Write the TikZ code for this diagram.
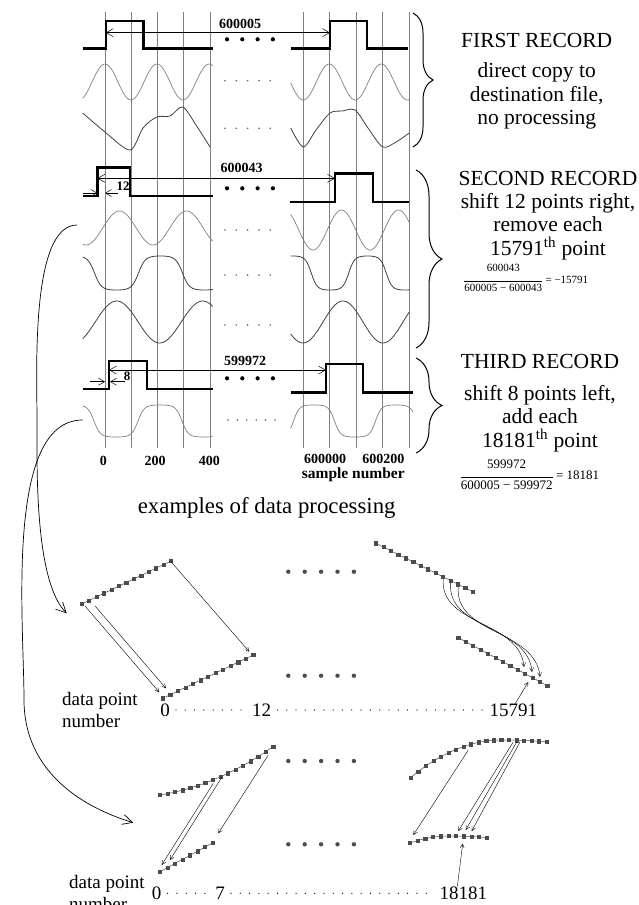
\documentclass[tikz,border=0pt]{standalone}
\usepackage{fontspec}
\setmainfont{Liberation Serif}
\usetikzlibrary{arrows.meta,positioning,decorations.pathreplacing,plotmarks}
\tikzset{
  gridln/.style={black!50, line width=0.7pt},
  pulse/.style={line width=2.4pt},
  sig/.style={black!50, line width=0.7pt},
  sigdark/.style={black!75, line width=0.8pt},
  spanarrow/.style={{Straight Barb[length=7pt,width=8pt]}-{Straight Barb[length=7pt,width=8pt]}, line width=0.5pt},
  shiftarrow/.style={-{Straight Barb[length=6pt,width=7pt]}, line width=0.5pt},
  numlbl/.style={font=\bfseries\fontsize{14}{14}\selectfont, inner sep=0pt},
  rectitle/.style={font=\fontsize{21.5}{24}\selectfont, inner sep=0pt},
  rectext/.style={font=\fontsize{21.5}{23.3}\selectfont, align=center, inner sep=0pt},
  fracnum/.style={font=\fontsize{11}{13}\selectfont, inner sep=0pt},
  ptlbl/.style={font=\fontsize{19}{22}\selectfont, inner sep=0pt},
  series/.style={black!70, line width=0.5pt, mark=square*, mark size=1.6pt,
                 mark options={fill=black!70, draw=black!70}},
  move/.style={-{Straight Barb[length=4pt,width=4pt]}, line width=0.4pt},
  link/.style={-{Straight Barb[length=10pt,width=10pt]}, line width=0.7pt},
  dotrow/.style={line width=1.3pt, line cap=round, dash pattern=on 0pt off 9.3pt},
  brc/.style={decorate, decoration={brace, amplitude=#1}, line width=1pt}
}
\begin{document}
\begin{tikzpicture}[x=1pt, y=-1pt]
\useasboundingbox (0,0) rectangle (639,905);

% sample grid
\foreach \i in {0,...,4} {
  \draw[gridln] (105+26.25*\i,12) -- ++(0,436);
  \draw[gridln] (303.3+26.5*\i,12) -- ++(0,436);
}

% first record
\draw[pulse] (82.7,48.3) -| (105.7,20.7) -| (143.3,48.3) -- (212.7,48.3);
\draw[pulse] (290.7,48.3) -| (330,20.7) -| (366.7,48.3) -- (408.3,48.3);
\coordinate (r1a) at (105.7,32.7);
\coordinate (r1b) at (330,32.7);
\draw[spanarrow] (r1a) -- (r1b);
\node[numlbl] (len1) at (240,24) {600005};
\draw[sig] plot[domain=82.7:212.7, samples=80, smooth] (\x,{82+18*cos((\x-131)/52*360)});
\draw[sig] plot[domain=290.7:409.3, samples=80, smooth] (\x,{82+18*cos((\x-303.3)/52*360)});
\draw[sigdark] plot[smooth] coordinates {(82.7,113) (105,132) (130,150) (143,128) (156.7,117) (170,116) (182.7,107) (196,125) (210,147)};
\draw[sigdark] plot[smooth] coordinates {(290.7,128) (303.3,147) (316,130) (330,113) (342,111) (355,110) (368,128) (382.7,147) (396,142) (409.3,133)};

% second record
\draw[pulse] (82.7,196) -| (97.3,167.3) -| (130,196) -- (212.7,196);
\draw[pulse] (290,201.7) -| (335,173.3) -| (372.7,201.7) -- (409.3,201.7);
\coordinate (r2a) at (97.3,178.3);
\coordinate (r2b) at (335,178.3);
\draw[spanarrow] (r2a) -- (r2b);
\node[numlbl] (len2) at (241.7,168) {600043};
\coordinate (s2a) at (82.7,193);
\coordinate (s2b) at (97.3,193);
\coordinate (s2c) at (118,193);
\coordinate (s2d) at (105,193);
\draw[shiftarrow] (s2a) -- (s2b);
\draw[shiftarrow] (s2c) -- (s2d);
\node[numlbl, font=\bfseries\fontsize{13}{13}\selectfont] (sh2) at (123,186) {12};
\draw[sig] plot[domain=82.7:212.7, samples=80, smooth] (\x,{228+17*cos((\x-153)/67*360)});
\draw[sig] plot[domain=290.7:409.3, samples=80, smooth] (\x,{230+20*cos((\x-313)/57*360)});
\draw[sigdark] plot[domain=82.7:212.7, samples=80, smooth] (\x,{273+17*tanh(2*cos((\x-116.5)/88*360))/tanh(2)});
\draw[sigdark] plot[domain=290.7:409.3, samples=80, smooth] (\x,{273+17*tanh(2*cos((\x-330)/75*360))/tanh(2)});
\draw[sigdark] plot[domain=82.7:212.7, samples=80, smooth] (\x,{322-21*cos((\x-116.7)/86*360)});
\draw[sigdark] plot[domain=290.7:409.3, samples=80, smooth] (\x,{322-21*cos((\x-343)/80*360)});

% third record
\draw[pulse] (82.7,389) -| (109,360.7) -| (146.7,389) -- (212.7,389);
\draw[pulse] (290.7,392.3) -| (326,364) -| (362.7,392.3) -- (412.7,392.3);
\coordinate (r3a) at (109,370);
\coordinate (r3b) at (326,370);
\draw[spanarrow] (r3a) -- (r3b);
\node[numlbl] (len3) at (245,361) {599972};
\coordinate (s3a) at (90,381.7);
\coordinate (s3b) at (105,381.7);
\coordinate (s3c) at (125,381.7);
\coordinate (s3d) at (110,381.7);
\draw[shiftarrow] (s3a) -- (s3b);
\draw[shiftarrow] (s3c) -- (s3d);
\node[numlbl, font=\bfseries\fontsize{13}{13}\selectfont] (sh3) at (127,376) {8};
\draw[sig] plot[domain=82.7:212.7, samples=90, smooth] (\x,{421+16*tanh(2.2*cos((\x-116)/88*360))/tanh(2.2)});
\draw[sig] plot[domain=290.7:412.7, samples=90, smooth] (\x,{421+16*tanh(2.2*cos((\x-355)/82*360))/tanh(2.2)});

% gaps in the records
\foreach \y in {80.7,128.3,230,275,325}
  \foreach \i in {0,...,4} \fill[black!60] (225+11.3*\i,\y) circle (0.9);
\foreach \i in {0,...,5} \fill[black!60] (228+9.4*\i,420) circle (0.9);
\foreach \y in {39.3,188.3,378.3}
  \foreach \i in {0,...,3} \fill (227+15.3*\i,\y) circle (2.1);

% axis labels
\node[numlbl] (x0) at (103.3,460.5) {0};
\node[numlbl] (x200) at (155,460.5) {200};
\node[numlbl] (x400) at (209.3,460.5) {400};
\node[numlbl] (x6a) at (325,459) {600000};
\node[numlbl] (x6b) at (383.3,459) {600200};
\node[numlbl, font=\bfseries\fontsize{15.5}{15.5}\selectfont] (xname) at (353.3,475) {sample number};

% record texts
\draw[brc=20pt] (413,13) -- (413,147);
\draw[brc=26pt] (416,170) -- (416,348);
\draw[brc=26pt] (416,358) -- (416,453);
\node[rectitle] (t1) at (536.7,40) {FIRST RECORD};
\node[rectext] (b1) at (536.7,96) {direct copy to\\destination file,\\no processing};
\node[rectitle] (t2) at (548,178.3) {SECOND RECORD};
\node[rectext] (b2) at (548,226.5) {shift 12 points right,\\remove each\\15791\textsuperscript{th} point};
\node[rectitle] (t3) at (540,361.7) {THIRD RECORD};
\node[rectext] (b3) at (540,418.5) {shift 8 points left,\\add each\\18181\textsuperscript{th} point};

\node[fracnum] (num2) at (503.3,268.3) {600043};
\node[fracnum] (den2) at (503.3,288.3) {600005 − 600043};
\draw[line width=0.5pt] ([yshift=3pt]den2.north west) -- ([yshift=3pt]den2.north east);
\node[fracnum, anchor=west] (res2) at ([xshift=3pt,yshift=4.5pt]den2.north east) {= −15791};
\node[fracnum, font=\fontsize{13}{15}\selectfont] (num3) at (506.7,464) {599972};
\node[fracnum, font=\fontsize{13}{15}\selectfont] (den3) at (506.7,485) {600005 − 599972};
\draw[line width=0.5pt] ([yshift=3pt]den3.north west) -- ([yshift=3pt]den3.north east);
\node[fracnum, font=\fontsize{13}{15}\selectfont, anchor=west] (res3) at ([xshift=3pt,yshift=5pt]den3.north east) {= 18181};

\node[rectitle, font=\fontsize{22.8}{24}\selectfont] (ex) at (266.7,508.3) {examples of data processing};

% example: removing points
\draw[series] plot[domain=0:12, samples=13] ({81.7+7.44*\x},{604-3.58*\x});
\draw[series] plot[domain=0:12, samples=13] ({162.7+7.55*\x},{698.3-3.61*\x});
\draw[series] plot[domain=0:13, samples=14] ({376+7.44*\x},{543.3+3.72*\x});
\draw[series] plot[domain=0:12, samples=13] ({458.3+7.42*\x},{637.7+4.0*\x});
\coordinate (m1a) at (85,606);    \coordinate (m1b) at (159.3,692.3);
\coordinate (m2a) at (95,606);    \coordinate (m2b) at (166,688.3);
\coordinate (m3a) at (171,561.7); \coordinate (m3b) at (249.3,651.7);
\draw[move] (m1a) -- (m1b);
\draw[move] (m2a) -- (m2b);
\draw[move] (m3a) -- (m3b);
\coordinate (c1a) at (443.3,579); \coordinate (c1b) at (524,667);
\coordinate (c2a) at (450.7,583); \coordinate (c2b) at (532,672);
\coordinate (c3a) at (458.3,587); \coordinate (c3b) at (540,677);
\foreach \k in {1,...,3}
  \draw[move] (c\k a) to[out=-95, in=95] (c\k b);
\node[ptlbl, align=left, anchor=north west] (dp1) at (62,692) {data point\\number};
\node[ptlbl] (z1) at (165,710) {0};
\node[ptlbl] (n12) at (261.7,710) {12};
\node[ptlbl] (n15791) at (513.3,710) {15791};
\draw[dotrow] ([xshift=6pt]z1.east) -- ([xshift=-5pt]n12.west);
\draw[dotrow] ([xshift=6pt]n12.east) -- ([xshift=-5pt]n15791.west);
\coordinate (hit1) at (528.3,682);
\draw[move] ([xshift=2pt]n15791.north) -- (hit1);

% example: adding points
\draw[series] plot[domain=0:15, samples=16] ({160+7.55*\x},{795-1.2*\x-0.135*\x*\x});
\draw[series] plot[domain=0:7, samples=8] ({160+7.5*\x},{871.7-4.1*\x});
\draw[series] plot[domain=0:18, samples=19] ({410.7+7.55*\x},{740+0.26*max(12-\x,0)^2+0.05*max(\x-12,0)^2});
\draw[series] plot[domain=0:10, samples=11] ({410+7.67*\x},{836+0.28*max(5-\x,0)^2+0.06*max(\x-5,0)^2});
\coordinate (a1a) at (213.3,783.3); \coordinate (a1b) at (161.7,865);
\coordinate (a2a) at (221.7,777.3); \coordinate (a2b) at (170,860);
\coordinate (a3a) at (268.3,755);   \coordinate (a3b) at (218.3,833.3);
\coordinate (a4a) at (468.3,750);   \coordinate (a4b) at (413.3,835);
\coordinate (a5a) at (513.3,742);   \coordinate (a5b) at (458.3,831);
\coordinate (a6a) at (516.7,742);   \coordinate (a6b) at (465.7,830);
\coordinate (a7a) at (520,742);     \coordinate (a7b) at (471.7,831);
\foreach \k in {1,...,7}
  \draw[move] (a\k a) -- (a\k b);
\node[ptlbl, align=left, anchor=north west] (dp2) at (69,875) {data point\\number};
\node[ptlbl] (z2) at (156.7,893.3) {0};
\node[ptlbl] (n7) at (220,893.3) {7};
\node[ptlbl] (n18181) at (463.3,893.3) {18181};
\draw[dotrow] ([xshift=6pt]z2.east) -- ([xshift=-5pt]n7.west);
\draw[dotrow] ([xshift=6pt]n7.east) -- ([xshift=-5pt]n18181.west);
\coordinate (hit2) at (462.7,843.5);
\draw[move] ([xshift=-6pt]n18181.north) -- (hit2);

\foreach \y in {571.7,675.7,761,844.3}
  \foreach \i in {0,...,4} \fill[black!70] (288.3+16.4*\i,\y) circle (2.2);

% links from records to examples
\coordinate (from2) at (77,225);
\coordinate (bendA) at (37,420);
\coordinate (to2) at (66.7,613.3);
\draw[link] (from2) to[out=180, in=90, looseness=0.6] (bendA) to[out=-90, in=135, looseness=0.6] (to2);
\coordinate (from3) at (82.7,420);
\coordinate (bendB) at (24,700);
\coordinate (to3) at (133.3,822.7);
\draw[link] (from3) to[out=180, in=90, looseness=0.7] (bendB) to[out=-90, in=163] (to3);
\end{tikzpicture}
\end{document}
